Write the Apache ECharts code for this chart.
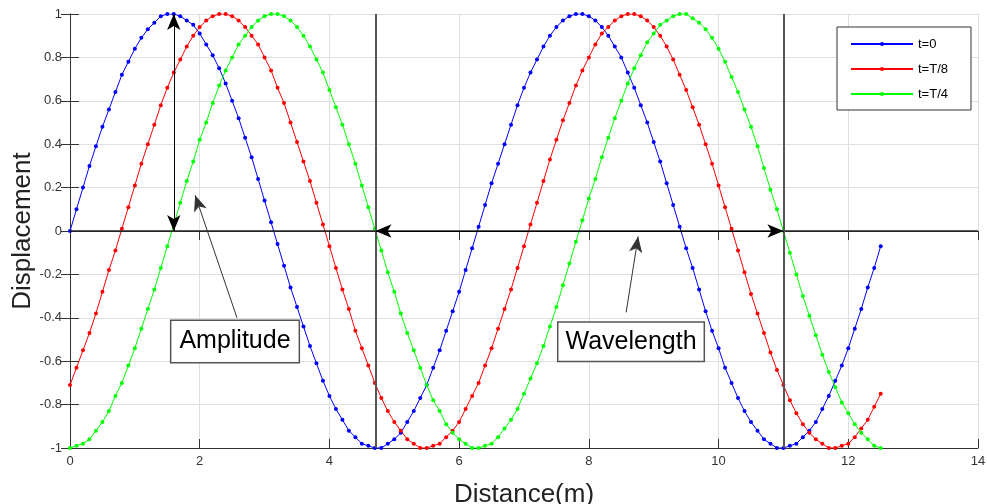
<!DOCTYPE html>
<html style="height: 100%">

<head>
    <meta charset="utf-8">
    <title>Travelling Wave</title>
</head>

<body style="height: 100%; margin: 0; background: #fff">
    <div id="container" style="width: 987px; height: 504px"></div>
    <script src="https://cdn.jsdelivr.net/npm/echarts@6/dist/echarts.min.js"></script>
    <script type="text/javascript">
        // sample positions (m)
        var distance = [
            0, 0.1, 0.2, 0.3, 0.4, 0.5, 0.6, 0.7, 0.8, 0.9,
            1.0, 1.1, 1.2, 1.3, 1.4, 1.5, 1.6, 1.7, 1.8, 1.9,
            2.0, 2.1, 2.2, 2.3, 2.4, 2.5, 2.6, 2.7, 2.8, 2.9,
            3.0, 3.1, 3.2, 3.3, 3.4, 3.5, 3.6, 3.7, 3.8, 3.9,
            4.0, 4.1, 4.2, 4.3, 4.4, 4.5, 4.6, 4.7, 4.8, 4.9,
            5.0, 5.1, 5.2, 5.3, 5.4, 5.5, 5.6, 5.7, 5.8, 5.9,
            6.0, 6.1, 6.2, 6.3, 6.4, 6.5, 6.6, 6.7, 6.8, 6.9,
            7.0, 7.1, 7.2, 7.3, 7.4, 7.5, 7.6, 7.7, 7.8, 7.9,
            8.0, 8.1, 8.2, 8.3, 8.4, 8.5, 8.6, 8.7, 8.8, 8.9,
            9.0, 9.1, 9.2, 9.3, 9.4, 9.5, 9.6, 9.7, 9.8, 9.9,
            10.0, 10.1, 10.2, 10.3, 10.4, 10.5, 10.6, 10.7, 10.8, 10.9,
            11.0, 11.1, 11.2, 11.3, 11.4, 11.5, 11.6, 11.7, 11.8, 11.9,
            12.0, 12.1, 12.2, 12.3, 12.4, 12.5
        ];

        // t=0
        var dispT0 = [
            0, 0.10, 0.20, 0.30, 0.39, 0.48, 0.56, 0.64, 0.72, 0.78,
            0.84, 0.89, 0.93, 0.96, 0.99, 1.00, 1.00, 0.99, 0.97, 0.95,
            0.91, 0.86, 0.81, 0.75, 0.68, 0.60, 0.52, 0.43, 0.34, 0.24,
            0.14, 0.04, -0.06, -0.16, -0.26, -0.35, -0.44, -0.53, -0.61, -0.69,
            -0.76, -0.82, -0.87, -0.92, -0.95, -0.98, -0.99, -1.00, -1.00, -0.98,
            -0.96, -0.93, -0.88, -0.83, -0.77, -0.71, -0.63, -0.55, -0.46, -0.37,
            -0.28, -0.18, -0.08, 0.02, 0.12, 0.22, 0.31, 0.40, 0.49, 0.58,
            0.66, 0.73, 0.79, 0.85, 0.90, 0.94, 0.97, 0.99, 1.00, 1.00,
            0.99, 0.97, 0.94, 0.90, 0.85, 0.80, 0.73, 0.66, 0.58, 0.50,
            0.41, 0.32, 0.22, 0.12, 0.02, -0.08, -0.17, -0.27, -0.37, -0.46,
            -0.54, -0.63, -0.70, -0.77, -0.83, -0.88, -0.92, -0.96, -0.98, -1.00,
            -1.00, -0.99, -0.98, -0.95, -0.92, -0.88, -0.82, -0.76, -0.69, -0.62,
            -0.54, -0.45, -0.36, -0.26, -0.17, -0.07
        ];

        // t=T/8
        var dispT8 = [
            -0.71, -0.63, -0.55, -0.47, -0.38, -0.28, -0.18, -0.09, 0.01, 0.11,
            0.21, 0.31, 0.40, 0.49, 0.58, 0.66, 0.73, 0.79, 0.85, 0.90,
            0.94, 0.97, 0.99, 1.00, 1.00, 0.99, 0.97, 0.94, 0.90, 0.86,
            0.80, 0.74, 0.66, 0.59, 0.50, 0.41, 0.32, 0.23, 0.13, 0.03,
            -0.07, -0.17, -0.27, -0.36, -0.46, -0.54, -0.62, -0.70, -0.77, -0.83,
            -0.88, -0.92, -0.96, -0.98, -1.00, -1.00, -0.99, -0.98, -0.95, -0.92,
            -0.88, -0.82, -0.76, -0.70, -0.62, -0.54, -0.45, -0.36, -0.27, -0.17,
            -0.07, 0.03, 0.13, 0.23, 0.33, 0.42, 0.51, 0.59, 0.67, 0.74,
            0.80, 0.86, 0.91, 0.94, 0.97, 0.99, 1.00, 1.00, 0.99, 0.97,
            0.94, 0.90, 0.85, 0.79, 0.72, 0.65, 0.57, 0.49, 0.40, 0.31,
            0.21, 0.11, 0.01, -0.09, -0.19, -0.29, -0.38, -0.47, -0.56, -0.64,
            -0.71, -0.78, -0.84, -0.89, -0.93, -0.96, -0.98, -1.00, -1.00, -0.99,
            -0.98, -0.95, -0.91, -0.87, -0.81, -0.75
        ];

        // t=T/4
        var dispT4 = [
            -1.00, -0.99, -0.98, -0.96, -0.92, -0.88, -0.83, -0.76, -0.70, -0.62,
            -0.54, -0.45, -0.36, -0.27, -0.17, -0.07, 0.03, 0.13, 0.23, 0.32,
            0.42, 0.50, 0.59, 0.67, 0.74, 0.80, 0.86, 0.90, 0.94, 0.97,
            0.99, 1.00, 1.00, 0.99, 0.97, 0.94, 0.90, 0.85, 0.79, 0.73,
            0.65, 0.57, 0.49, 0.40, 0.31, 0.21, 0.11, 0.01, -0.09, -0.19,
            -0.28, -0.38, -0.47, -0.55, -0.63, -0.71, -0.78, -0.83, -0.89, -0.93,
            -0.96, -0.98, -1.00, -1.00, -0.99, -0.98, -0.95, -0.91, -0.87, -0.82,
            -0.75, -0.68, -0.61, -0.53, -0.44, -0.35, -0.25, -0.15, -0.05, 0.05,
            0.15, 0.24, 0.34, 0.43, 0.52, 0.60, 0.68, 0.75, 0.81, 0.87,
            0.91, 0.95, 0.97, 0.99, 1.00, 1.00, 0.98, 0.96, 0.93, 0.89,
            0.84, 0.78, 0.71, 0.64, 0.56, 0.48, 0.39, 0.29, 0.19, 0.10,
            0.00, -0.10, -0.20, -0.30, -0.39, -0.48, -0.57, -0.65, -0.72, -0.79,
            -0.84, -0.89, -0.93, -0.96, -0.99, -1.00
        ];

        var seriesNames = ['t=0', 't=T/8', 't=T/4'];
        var seriesColors = ['#0000ff', '#ff0000', '#00ff00'];

        var font = 'Liberation Sans, Arial, Helvetica, sans-serif';
        var axisColor = '#333';

        function pairs(ys) {
            return distance.map(function (x, i) {
                return [x, ys[i]];
            });
        }

        var black = { color: '#000', width: 1, type: 'solid' };
        var boxLabel = {
            show: true, position: 'inside', formatter: '{b}',
            fontSize: 25, lineHeight: 27, color: '#000', fontFamily: font,
            backgroundColor: '#fff', borderColor: '#555', borderWidth: 1.5
        };

        var option = {
            animation: false,
            textStyle: { fontFamily: font },
            grid: { left: 70, right: 9, top: 14, bottom: 56, outerBoundsMode: 'none', containLabel: false },
            legend: {
                data: seriesNames,
                orient: 'vertical',
                left: 837,
                top: 27,
                padding: [10, 23, 9, 13],
                itemWidth: 62,
                itemHeight: 5,
                itemGap: 11,
                borderColor: '#333',
                borderWidth: 1,
                backgroundColor: '#fff',
                textStyle: { fontSize: 13, color: '#000', lineHeight: 14, fontFamily: font }
            },
            xAxis: [{
                type: 'value',
                min: 0, max: 14, interval: 2,
                name: 'Distance(m)',
                nameLocation: 'middle',
                nameGap: 34,
                nameTextStyle: { fontSize: 26, color: '#222', fontFamily: font },
                axisLine: { onZero: false, lineStyle: { color: axisColor } },
                axisTick: { inside: true, length: 9, lineStyle: { color: axisColor } },
                axisLabel: { fontSize: 13, color: axisColor, margin: 7 },
                splitLine: { show: true, lineStyle: { color: '#dfdfdf' } }
            }, {
                type: 'value', position: 'top',
                min: 0, max: 14, interval: 2,
                axisLine: { show: true, lineStyle: { color: axisColor } },
                axisTick: { show: true, inside: true, length: 9, lineStyle: { color: axisColor } },
                axisLabel: { show: false },
                splitLine: { show: false }
            }],
            yAxis: [{
                type: 'value',
                min: -1, max: 1, interval: 0.2,
                name: 'Displacement',
                nameLocation: 'middle',
                nameGap: 34,
                nameMoveOverlap: false,
                nameTextStyle: { fontSize: 26, color: '#222', fontFamily: font },
                axisLine: { show: true, onZero: false, lineStyle: { color: axisColor } },
                axisTick: { show: true, inside: true, length: 9, lineStyle: { color: axisColor } },
                axisLabel: {
                    fontSize: 13, color: axisColor, margin: 8,
                    formatter: function (v) { return String(Math.round(v * 10) / 10); }
                },
                splitLine: { show: true, lineStyle: { color: '#dfdfdf' } }
            }, {
                type: 'value', position: 'right',
                min: -1, max: 1, interval: 0.2,
                axisLine: { show: true, lineStyle: { color: axisColor } },
                axisTick: { show: true, inside: true, length: 9, lineStyle: { color: axisColor } },
                axisLabel: { show: false },
                splitLine: { show: false }
            }],
            series: [
                {
                    name: seriesNames[0], type: 'line', data: pairs(dispT0),
                    color: seriesColors[0], symbol: 'circle', symbolSize: 4,
                    lineStyle: { width: 1 }, z: 3
                },
                {
                    name: seriesNames[1], type: 'line', data: pairs(dispT8),
                    color: seriesColors[1], symbol: 'circle', symbolSize: 4,
                    lineStyle: { width: 1 }, z: 3
                },
                {
                    name: seriesNames[2], type: 'line', data: pairs(dispT4),
                    color: seriesColors[2], symbol: 'circle', symbolSize: 4,
                    lineStyle: { width: 1 }, z: 3,
                    markLine: {
                        silent: true,
                        animation: false,
                        symbol: 'none',
                        label: { show: false },
                        emphasis: { disabled: true },
                        data: [
                            // zero line and wavelength guides
                            [{ coord: [0, 0], lineStyle: { color: '#222', width: 1.5, type: 'solid' } }, { coord: [14, 0] }],
                            [{ coord: [4.71, -1], lineStyle: { color: '#555', width: 2, type: 'solid' } }, { coord: [4.71, 1] }],
                            [{ coord: [11.0, -1], lineStyle: { color: '#555', width: 2, type: 'solid' } }, { coord: [11.0, 1] }],
                            // amplitude double arrow
                            [{ coord: [1.6, 0], symbol: 'arrow', symbolSize: [10, 16], lineStyle: black },
                             { coord: [1.6, 1], symbol: 'arrow', symbolSize: [10, 16] }],
                            // wavelength double arrow
                            [{ coord: [4.71, 0], symbol: 'arrow', symbolSize: [10, 16], lineStyle: black },
                             { coord: [11.0, 0], symbol: 'arrow', symbolSize: [10, 16] }],
                            // pointers from text boxes
                            [{ coord: [2.575, -0.40], symbol: 'none', lineStyle: { color: '#333', width: 1, type: 'solid' } },
                             { coord: [1.93, 0.165], symbol: 'arrow', symbolSize: [10, 16] }],
                            [{ coord: [8.575, -0.375], symbol: 'none', lineStyle: { color: '#333', width: 1, type: 'solid' } },
                             { coord: [8.76, -0.025], symbol: 'arrow', symbolSize: [10, 16] }]
                        ],
                        itemStyle: { color: '#000' }
                    },
                    markPoint: {
                        silent: true,
                        animation: false,
                        symbol: 'circle',
                        symbolSize: 0,
                        data: [
                            {
                                name: 'Amplitude', coord: [2.544, -0.509],
                                label: Object.assign({ padding: [7, 8, 7, 8] }, boxLabel)
                            },
                            {
                                name: 'Wavelength', coord: [8.65, -0.51],
                                label: Object.assign({ padding: [6, 7, 5, 7] }, boxLabel)
                            }
                        ]
                    }
                }
            ]
        };

        var myChart = echarts.init(document.getElementById('container'));
        myChart.setOption(option);
    </script>
</body>

</html>
